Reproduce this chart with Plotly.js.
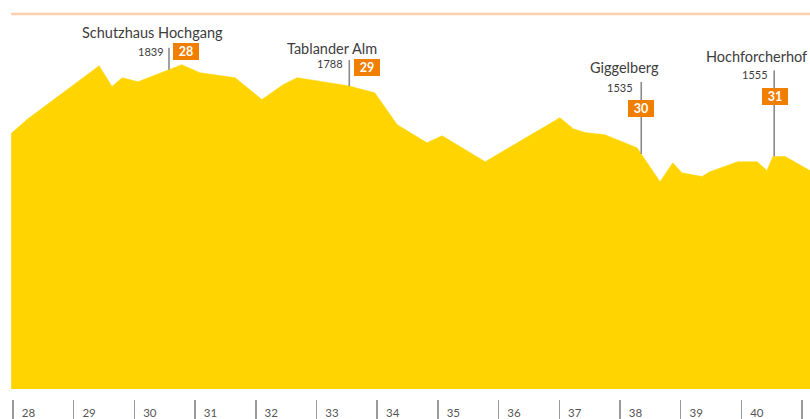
<!DOCTYPE html>
<html>
<head>
<meta charset="utf-8">
<script src="https://cdn.plot.ly/plotly-3.0.1.min.js"></script>
<style>
  html, body { margin: 0; padding: 0; background: #fff; }
  #chart { width: 810px; height: 419px; }
</style>
</head>
<body>
<div id="chart"></div>
<script>
// ---- data ----
const profileKm = [27.97, 28.23, 29.42, 29.63, 29.80, 30.06, 30.78, 31.08, 31.66, 32.10,
                   32.45, 32.68, 33.52, 33.96, 34.33, 34.82, 35.07, 35.78, 37.01, 37.23,
                   37.42, 37.75, 38.28, 38.66, 38.87, 39.02, 39.35, 39.48, 39.94, 40.26,
                   40.42, 40.52, 40.72, 41.13];
const profileElev = [1595, 1647, 1846, 1769, 1802, 1787, 1850, 1820, 1802, 1721,
                     1776, 1802, 1772, 1746, 1628, 1561, 1587, 1491, 1654, 1613,
                     1599, 1591, 1543, 1417, 1487, 1450, 1436, 1454, 1491, 1491,
                     1458, 1510, 1510, 1458];
const baseElev = 650;

const stopKm = [30.57, 33.54, 38.35, 40.54];
const stopName = ["Schutzhaus Hochgang", "Tablander Alm", "Giggelberg", "Hochforcherhof"];
const stopElevLabel = ["1839", "1788", "1535", "1555"];
const stopNumber = ["28", "29", "30", "31"];

const tickKm = [28, 29, 30, 31, 32, 33, 34, 35, 36, 37, 38, 39, 40, 41];
const tickText = ["28", "29", "30", "31", "32", "33", "34", "35", "36", "37", "38", "39", "40", "41"];

// ---- styling / placement (pixels) ----
const stopLayout = [
  {lineLen: 22, nameDx: -17, nameDy: 37, elevDx: -3, elevDy: 18, boxDx: 17, boxDy: 18.5},
  {lineLen: 26, nameDx: -17, nameDy: 38, elevDx: -4, elevDy: 23, boxDx: 18, boxDy: 18.5},
  {lineLen: 72, nameDx: -17, nameDy: 86, elevDx: -6, elevDy: 66, boxDx: 0,  boxDy: 45},
  {lineLen: 86, nameDx: -18, nameDy: 100, elevDx: -4, elevDy: 82, boxDx: 0.5, boxDy: 60}
];

function surfaceAt(k) {
  for (let i = 0; i < profileKm.length - 1; i++) {
    if (k >= profileKm[i] && k <= profileKm[i + 1]) {
      const t = (k - profileKm[i]) / (profileKm[i + 1] - profileKm[i]);
      return profileElev[i] + t * (profileElev[i + 1] - profileElev[i]);
    }
  }
  return profileElev[profileElev.length - 1];
}

const YELLOW = '#FFD400';
const ORANGE = '#F07E00';
const TEXT = '#3d3d3d';
const FONT = 'Lato, "Open Sans", sans-serif';

const traces = [
  {
    x: [profileKm[0], profileKm[profileKm.length - 1]],
    y: [baseElev, baseElev],
    mode: 'lines', line: {width: 0, color: YELLOW},
    hoverinfo: 'skip', showlegend: false
  },
  {
    x: profileKm, y: profileElev,
    mode: 'lines', fill: 'tonexty', fillcolor: YELLOW,
    line: {width: 0.5, color: YELLOW},
    hoverinfo: 'skip', showlegend: false
  }
];

const shapes = [
  {type: 'line', xref: 'paper', yref: 'y', x0: 0, x1: 1, y0: 2037.5, y1: 2037.5,
   line: {color: '#FAD0AE', width: 2.5}}
];
const annotations = [];

stopKm.forEach((k, i) => {
  const s = surfaceAt(k);
  const L = stopLayout[i];
  shapes.push({
    type: 'line', xref: 'x', yref: 'y', ysizemode: 'pixel', yanchor: s,
    x0: k, x1: k, y0: 0, y1: L.lineLen,
    line: {color: '#8a8a8a', width: 1.6}, layer: 'above'
  });
  annotations.push({
    x: k, y: s, xref: 'x', yref: 'y', showarrow: false,
    text: stopName[i], xshift: L.nameDx, yshift: L.nameDy,
    xanchor: 'center', yanchor: 'middle',
    font: {family: FONT, size: 14.5, color: TEXT}
  });
  annotations.push({
    x: k, y: s, xref: 'x', yref: 'y', showarrow: false,
    text: stopElevLabel[i], xshift: L.elevDx, yshift: L.elevDy,
    xanchor: 'right', yanchor: 'middle',
    font: {family: FONT, size: 11, color: TEXT}
  });
  annotations.push({
    x: k, y: s, xref: 'x', yref: 'y', showarrow: false,
    text: '<b>' + stopNumber[i] + '</b>', xshift: L.boxDx, yshift: L.boxDy,
    xanchor: 'center', yanchor: 'middle',
    width: 22, height: 13, borderpad: 2,
    bgcolor: ORANGE, bordercolor: ORANGE, borderwidth: 0,
    font: {family: FONT, size: 12.5, color: '#ffffff'}
  });
});

const layout = {
  width: 810, height: 419,
  margin: {l: 11, r: 0, t: 0, b: 20},
  paper_bgcolor: '#ffffff', plot_bgcolor: '#ffffff',
  showlegend: false,
  xaxis: {
    range: [27.967, 41.13],
    tickmode: 'array', tickvals: tickKm, ticktext: tickText,
    ticks: 'outside', ticklen: 20, tickwidth: 1.5, tickcolor: '#9a9a9a',
    ticklabelposition: 'outside right', ticklabelshift: 8, ticklabelstandoff: 3,
    showgrid: false, zeroline: false, showline: false,
    tickfont: {family: FONT, size: 11.5, color: '#555555'},
    fixedrange: true
  },
  yaxis: {
    range: [613, 2089.3], visible: false, showgrid: false, zeroline: false, fixedrange: true
  },
  shapes: shapes,
  annotations: annotations
};

Plotly.newPlot('chart', traces, layout, {displayModeBar: false, staticPlot: true});
</script>
</body>
</html>
